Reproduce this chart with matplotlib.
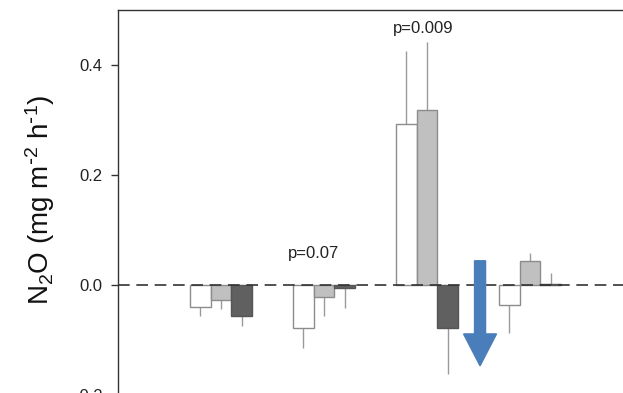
import matplotlib
matplotlib.use("Agg")
import numpy as np
import matplotlib.pyplot as plt
from matplotlib.patches import FancyArrow

plt.rcParams['font.family'] = ['Liberation Sans', 'DejaVu Sans']
plt.rcParams['mathtext.default'] = 'regular'
plt.rcParams['axes.unicode_minus'] = False

# mean flux per sampling group (three treatments) and one-sided error
groups = [0, 1, 2, 3]
flux_open = [-0.040, -0.078, 0.293, -0.037]
flux_mid = [-0.028, -0.021, 0.319, 0.044]
flux_dark = [-0.056, -0.005, -0.078, 0.002]
err_open = [0.016, 0.036, 0.132, 0.051]
err_mid = [0.016, 0.035, 0.123, 0.015]
err_dark = [0.018, 0.037, 0.084, 0.020]

p_labels = ['p=0.07', 'p=0.009']
p_x = [0.90, 1.96]
p_y = [0.058, 0.467]

y_ticks = [-0.2, 0.0, 0.2, 0.4]

# arrow marking the drop (x, top, bottom)
arrow_x = 2.515
arrow_top = 0.044
arrow_bottom = -0.147

fig = plt.figure(figsize=(6.23, 3.93), dpi=100)
ax = fig.add_axes([118 / 623, -0.075, 535.6 / 623, 0.75 * 550 / 393])

bar_w = 0.2
series = [
    (flux_open, err_open, -bar_w, 'white', '#8c8c8c'),
    (flux_mid, err_mid, 0.0, '#c0c0c0', '#8c8c8c'),
    (flux_dark, err_dark, bar_w, '#606060', '#555555'),
]

x = np.array(groups, dtype=float)
for vals, errs, off, fc, ec in series:
    vals = np.array(vals)
    errs = np.array(errs)
    ax.bar(x + off, vals, width=bar_w, color=fc, edgecolor=ec, linewidth=1, zorder=2)
    # error bar only on the side away from zero
    lower = np.where(vals < 0, errs, 0)
    upper = np.where(vals >= 0, errs, 0)
    ax.errorbar(x + off, vals, yerr=[lower, upper], fmt='none',
                ecolor='#9a9a9a', elinewidth=1, capsize=0, zorder=1)

ax.axhline(0, color='#333333', linewidth=1.2, dashes=(7, 4), zorder=3)

for txt, px, py in zip(p_labels, p_x, p_y):
    ax.text(px, py, txt, ha='center', va='center', fontsize=12, color='#222222')

ax.add_patch(FancyArrow(arrow_x, arrow_top, 0, arrow_bottom - arrow_top,
                        width=0.107, head_width=0.32, head_length=0.058,
                        length_includes_head=True, color='#4a7ebb', zorder=4))

ax.set_xlim(-1.0, 4.2)
ax.set_ylim(-0.25, 0.5)
ax.set_yticks(y_ticks)
ax.set_yticklabels([f"{t:.1f}" for t in y_ticks])
ax.tick_params(axis='y', direction='out', length=5, width=1, labelsize=12,
               color='#333333', labelcolor='#222222', pad=6)
ax.set_xticks([])
for side in ['left', 'top', 'right', 'bottom']:
    ax.spines[side].set_color('#333333')
    ax.spines[side].set_linewidth(1)

fig.text(40 / 623, 1 - 200 / 393, r'N$_2$O (mg m$^{\text{-}2}$ h$^{\text{-}1}$)',
         rotation=90, ha='center', va='center', fontsize=20, color='#111111')

fig.savefig('out.png', dpi=100)
